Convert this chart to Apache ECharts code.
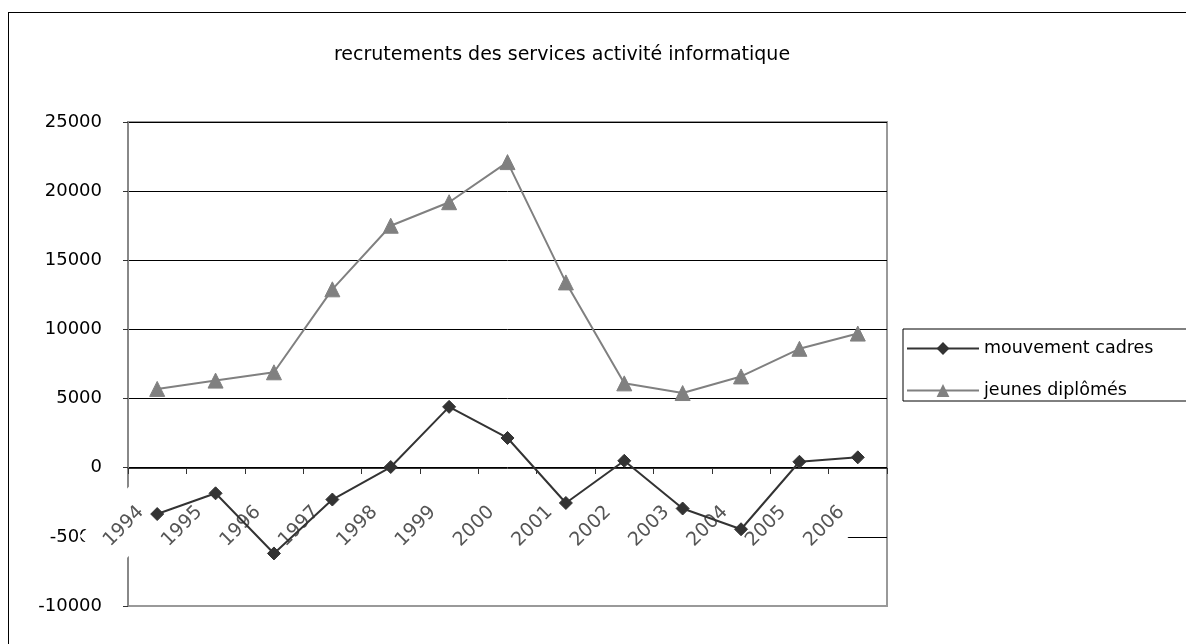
<!DOCTYPE html>
<html>
<head>
<meta charset="utf-8">
<script src="https://cdn.jsdelivr.net/npm/echarts@6/dist/echarts.min.js"></script>
<style>
  html, body { margin: 0; padding: 0; background: #fff; }
  #wrap { position: relative; width: 1186px; height: 644px; overflow: hidden; }
  #frame { position: absolute; left: 8px; top: 12px; width: 1300px; height: 800px; border: 1px solid #000; }
  #chart { position: absolute; left: 0; top: 0; width: 1186px; height: 644px; }
</style>
</head>
<body>
<div id="wrap">
  <div id="frame"></div>
  <div id="chart"></div>
</div>
<script>
const years = ['1994', '1995', '1996', '1997', '1998', '1999', '2000',
  '2001', '2002', '2003', '2004', '2005', '2006'];
const cadres = [-3350, -1850, -6200, -2300, 50, 4400, 2150, -2550, 500, -2950, -4450, 430, 750];
const diplomes = [5700, 6300, 6900, 12900, 17500, 19200, 22100, 13400, 6100, 5400, 6600, 8600, 9700];
const yTicks = { min: -10000, max: 25000, interval: 5000 };

const chart = echarts.init(document.getElementById('chart'));

const option = {
  animation: false,
  textStyle: { fontFamily: 'DejaVu Sans' },
  title: {
    text: 'recrutements des services activité informatique',
    left: 557,
    top: 41,
    textAlign: 'center',
    textStyle: { fontFamily: 'DejaVu Sans', fontSize: 19, fontWeight: 'normal', color: '#000' },
  },
  legend: {
    orient: 'vertical',
    left: 903,
    top: 329,
    padding: [9, 60, 0, 3],
    itemGap: 21,
    itemWidth: 72,
    itemHeight: 16,
    backgroundColor: '#fff',
    borderColor: '#000',
    borderWidth: 1,
    borderRadius: 0,
    textStyle: { fontFamily: 'DejaVu Sans', fontSize: 17.5, lineHeight: 21, color: '#000' },
    data: ['mouvement cadres', 'jeunes diplômés'],
  },
  grid: {
    left: 128,
    right: 299,
    top: 122,
    bottom: 38,
    show: true,
    borderColor: '#999',
    borderWidth: 2,
    outerBoundsMode: 'none',
    containLabel: false,
  },
  xAxis: {
    type: 'category',
    data: years,
    boundaryGap: true,
    // axis sits on the zero line
    offset: -138,
    axisLine: { onZero: false, lineStyle: { color: '#333', width: 1 } },
    axisTick: { show: true, inside: false, length: 6, lineStyle: { color: '#333' } },
    axisLabel: {
      rotate: 45,
      margin: 25,
      interval: 0,
      fontSize: 19,
      color: '#555',
      backgroundColor: '#fff',
      padding: [15, 23, 15, 14],
    },
    splitLine: { show: false },
  },
  yAxis: {
    type: 'value',
    min: yTicks.min,
    max: yTicks.max,
    interval: yTicks.interval,
    axisLine: { show: true, lineStyle: { color: '#888', width: 2 } },
    axisTick: { show: true, length: 5, lineStyle: { color: '#333' } },
    axisLabel: { fontSize: 18, color: '#000', margin: 26, formatter: (v) => String(v) },
    splitLine: {
      show: true,
      lineStyle: { color: ['#999', '#000', '#000', '#000', '#000', '#000', '#000', '#000'], width: 1 },
    },
  },
  series: [
    {
      name: 'mouvement cadres',
      type: 'line',
      data: cadres,
      symbol: 'diamond',
      symbolSize: 13,
      z: 5,
      lineStyle: { color: '#333', width: 2 },
      itemStyle: { color: '#333', borderColor: '#333' },
    },
    {
      name: 'jeunes diplômés',
      type: 'line',
      data: diplomes,
      symbol: 'triangle',
      symbolSize: 15,
      z: 5,
      lineStyle: { color: '#808080', width: 2 },
      itemStyle: { color: '#808080', borderColor: '#808080' },
    },
  ],
};

chart.setOption(option);
</script>
</body>
</html>
